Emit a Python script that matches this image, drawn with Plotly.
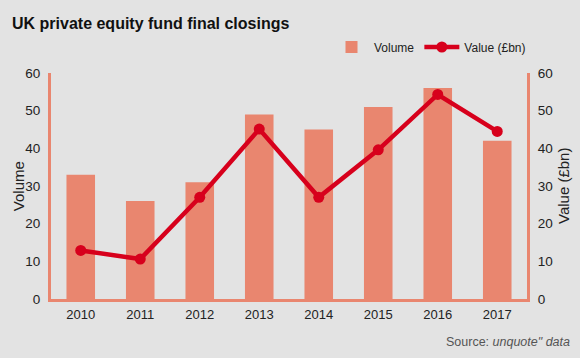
import plotly.graph_objects as go

years = ["2010", "2011", "2012", "2013", "2014", "2015", "2016", "2017"]
volume = [33, 26, 31, 49, 45, 51, 56, 42]
value_bn = [12.9, 10.6, 27.0, 45.1, 27.0, 39.6, 54.3, 44.5]
y_ticks = [0, 10, 20, 30, 40, 50, 60]

BG = "#e3e3e3"
BAR = "#e9866f"
LINE = "#d7001c"
REG = "Liberation Sans, Arial, sans-serif"

fig = go.Figure()
fig.add_trace(go.Bar(x=years, y=volume, name="Volume", marker=dict(color=BAR, line=dict(width=0)),
                     width=0.48, yaxis="y"))
fig.add_trace(go.Scatter(x=years, y=value_bn, name="Value (£bn)", mode="lines+markers",
                         line=dict(color=LINE, width=4.5), marker=dict(color=LINE, size=11),
                         yaxis="y2"))

axis_common = dict(range=[0, 60], tickvals=y_ticks, showgrid=False, zeroline=False,
                   showline=True, linecolor=BAR, linewidth=3,
                   ticks="outside", ticklen=5, tickcolor="rgba(0,0,0,0)",
                   tickfont=dict(family=REG, size=13.5, color="#222"), fixedrange=True,
                   automargin=False)

fig.update_layout(
    width=580, height=358,
    paper_bgcolor=BG, plot_bgcolor=BG,
    margin=dict(l=51, r=53, t=73, b=59, autoexpand=False),
    title=dict(text="<b>UK private equity fund final closings</b>", x=12 / 580, xanchor="left",
               xref="container", y=1 - 23 / 358, yanchor="middle", yref="container",
               font=dict(family=REG, size=16, color="#111")),
    xaxis=dict(type="category", range=[-0.5, 7.5], showgrid=False, zeroline=False,
               showline=True, linecolor=BAR, linewidth=3, ticks="outside", ticklen=1,
               tickcolor="rgba(0,0,0,0)", tickfont=dict(family=REG, size=13, color="#222"),
               automargin=False, fixedrange=True),
    yaxis=dict(**axis_common),
    yaxis2=dict(**axis_common, overlaying="y", side="right"),
    showlegend=True,
    legend=dict(orientation="h", xref="container", yref="container",
                x=531 / 580, xanchor="right", y=1 - 47 / 358, yanchor="middle",
                font=dict(family=REG, size=12, color="#222"), itemwidth=35,
                bgcolor="rgba(0,0,0,0)", traceorder="normal"),
    annotations=[
        dict(text="Volume", xref="paper", yref="paper", x=-0.069, y=0.5, textangle=-90,
             xanchor="center", yanchor="middle", showarrow=False,
             font=dict(family=REG, size=15, color="#222")),
        dict(text="Value (£bn)", xref="paper", yref="paper", x=1.0756, y=0.5, textangle=-90,
             xanchor="center", yanchor="middle", showarrow=False,
             font=dict(family=REG, size=15, color="#222")),
        dict(text="Source: <i>unquote\" data</i>", xref="paper", yref="paper", x=1.0945, y=-0.19,
             xanchor="right", yanchor="middle", showarrow=False,
             font=dict(family=REG, size=12.5, color="#555")),
    ],
)

fig.write_html("out.html", config={"displayModeBar": False},
               post_script="document.body.style.margin='0';document.body.style.background='#e3e3e3';")
